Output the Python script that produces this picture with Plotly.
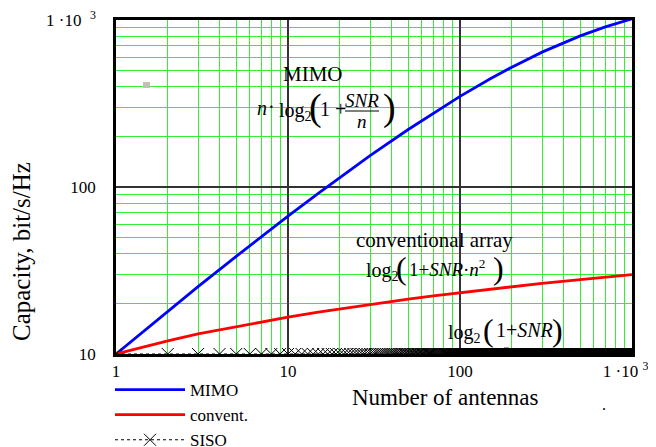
import plotly.graph_objects as go

# ---- data ----
n_points = [1, 2, 3, 5, 7, 10, 15, 20, 30, 50, 70, 100, 150, 200, 300, 500, 700, 1000]
mimo_capacity = [10.0, 18.0, 25.3, 38.4, 50.4, 66.9, 91.7, 114.1, 154.0, 221.0, 277.5,
                 349.0, 445.0, 522.0, 642.0, 803.0, 909.0, 1017.0]
convent_capacity = [10.0, 12.0, 13.2, 14.6, 15.6, 16.6, 17.8, 18.6, 19.8, 21.3, 22.3,
                    23.3, 24.5, 25.3, 26.5, 27.9, 28.9, 29.9]
siso_n = list(range(1, 1001))
siso_capacity = [10.0] * len(siso_n)

x_tickvals = [1, 10, 100, 1000]
x_ticktext = ["1", "10", "100", "1 ·10 <sup>3</sup>&nbsp;&nbsp;&nbsp;"]
y_tickvals = [10, 100, 1000]
y_ticktext = ["10", "100", "1 ·10  <sup>3</sup>"]
minor_x = [m * d for d in (1, 10, 100) for m in range(2, 10)]
minor_y = [m * d for d in (10, 100) for m in range(2, 10)]

# ---- layout geometry (page pixels; the html body adds an 8px offset) ----
OFF = 8
W, H = 656 - OFF, 447 - OFF
L, R, T, B = 116, 632, 20, 354


def px(x):
    return (x - L) / (R - L)


def py(y):
    return (B - y) / (B - T)


SERIF = "Liberation Serif, Times New Roman, serif"

fig = go.Figure()
fig.add_trace(go.Scatter(x=n_points, y=mimo_capacity, mode="lines", name="MIMO",
                         line=dict(color="#0000ff", width=2.8)))
fig.add_trace(go.Scatter(x=n_points, y=convent_capacity, mode="lines", name="convent.",
                         line=dict(color="#ff0000", width=2.8)))
fig.add_trace(go.Scatter(x=siso_n, y=siso_capacity, mode="lines+markers", name="SISO",
                         line=dict(color="#000000", width=1, dash="dot"),
                         marker=dict(symbol="x-thin-open", size=12,
                                     line=dict(color="#000000", width=1))))

axis_common = dict(type="log", showline=True, linecolor="#000000", linewidth=2.5,
                   mirror=True, showgrid=True, gridcolor="#333333", gridwidth=1.5,
                   zeroline=False, ticks="", ticklen=0, automargin=False,
                   ticklabeloverflow="allow",
                   tickfont=dict(family=SERIF, size=17, color="#000"))

fig.update_xaxes(range=[0, 3], tickvals=x_tickvals, ticktext=x_ticktext,
                 ticklabelstandoff=0,
                 minor=dict(tickvals=minor_x, showgrid=True, gridcolor="#33ee33",
                            gridwidth=1, ticks=""),
                 **axis_common)
fig.update_yaxes(range=[1, 3], tickvals=y_tickvals, ticktext=y_ticktext,
                 ticklabelstandoff=14,
                 minor=dict(tickvals=minor_y, showgrid=True, gridcolor="#33ee33",
                            gridwidth=1, ticks=""),
                 **axis_common)

shapes = []
# white boxes behind in-plot labels
for (x0, y0, x1, y1) in [(278, 62, 352, 84), (255, 84, 394, 134),
                         (350, 228, 520, 290), (440, 316, 565, 346)]:
    shapes.append(dict(type="rect", xref="paper", yref="paper", x0=px(x0), x1=px(x1),
                       y0=py(y1), y1=py(y0), fillcolor="white", line=dict(width=0),
                       layer="between"))
# fraction bar in MIMO formula
shapes.append(dict(type="line", xref="paper", yref="paper", x0=px(345), x1=px(379),
                   y0=py(111), y1=py(111), line=dict(color="black", width=1)))
# small grey square artifact
shapes.append(dict(type="rect", xref="paper", yref="paper", x0=px(143), x1=px(150),
                   y0=py(88), y1=py(82), fillcolor="#c0c0c0", line=dict(width=0),
                   layer="above"))

ann = []


def text(x, y, s, size=20, xanchor="center", angle=0):
    ann.append(dict(x=px(x), y=py(y), xref="paper", yref="paper", text=s, showarrow=False,
                    xanchor=xanchor, yanchor="middle", textangle=angle,
                    font=dict(family=SERIF, size=size, color="black")))


# MIMO label and formula
text(313, 74, "MIMO", 21)
text(262, 108, "<i>n</i>", 20)
text(271, 107, "·", 20)
text(277, 111, "log<sub>2</sub>", 20, "left")
text(315, 108, "(", 38)
text(333, 109, "1 +", 20)
text(362, 100, "<i>SNR</i>", 19)
text(362, 122, "<i>n</i>", 19)
text(389, 108, ")", 38)

# conventional array label and formula
text(434, 240, "conventional array", 21)
text(364, 271, "log<sub>2</sub>", 20, "left")
text(401, 268, "(", 32)
text(407, 268, "1+<i>SNR</i>·<i>n</i><sup>2</sup>", 19, "left")
text(498, 268, ")", 32)

# SISO formula
text(446, 333, "log<sub>2</sub>", 20, "left")
text(488, 330, "(", 32)
text(494, 330, "1+<i>SNR</i>", 20, "left")
text(557, 330, ")", 32)

text(445, 397, "Number of antennas", 23)
text(22, 252, "Capacity, bit/s/Hz", 25, angle=-90)
text(604, 404, ".", 16)

fig.update_layout(
    width=W, height=H,
    margin=dict(l=L - OFF, r=W + OFF - R, t=T - OFF, b=H + OFF - B, pad=0,
                autoexpand=False),
    paper_bgcolor="white", plot_bgcolor="white",
    shapes=shapes, annotations=ann,
    showlegend=True,
    legend=dict(x=px(110), y=py(372), xanchor="left", yanchor="top",
                font=dict(family=SERIF, size=17, color="black"),
                bgcolor="rgba(0,0,0,0)", itemwidth=70, tracegroupgap=0,
                maxheight=200),
)

fig.write_html("out.html")
